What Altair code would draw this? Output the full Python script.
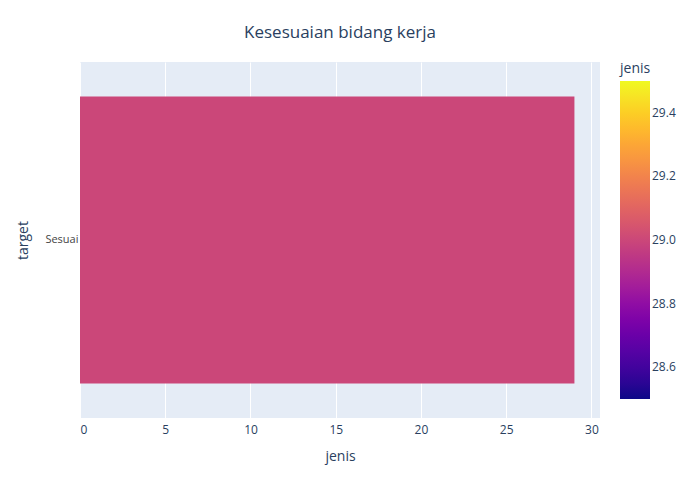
import altair as alt
import pandas as pd

targets = ["Sesuai"]
jenis = [29]

source = pd.DataFrame({"target": targets, "jenis": jenis})

ink = "#2a3f5f"

chart = alt.Chart(source).mark_bar().encode(
    alt.X("jenis:Q", title="jenis",
          scale=alt.Scale(domain=[0, 30.5], nice=False, zero=False),
          axis=alt.Axis(values=[0, 5, 10, 15, 20, 25, 30], domain=False, ticks=False,
                        gridColor="white", gridWidth=1, labelPadding=6, titlePadding=14)),
    alt.Y("target:N", title="target",
          scale=alt.Scale(paddingInner=0.2, paddingOuter=0.096),
          axis=alt.Axis(domain=False, ticks=False, grid=False, labelPadding=2, titlePadding=14,
                        labelColor="#444", labelFontSize=11)),
    color=alt.Color("jenis:Q", title="jenis",
                    scale=alt.Scale(scheme="plasma", domain=[28.5, 29.5]),
                    legend=alt.Legend(gradientLength=318, gradientThickness=30, offset=20,
                                      values=[28.6, 28.8, 29, 29.2, 29.4], labelFontSize=12,
                                      titleFontSize=14, titleFontWeight="normal", titleColor=ink,
                                      labelColor=ink, labelFont="Open Sans", titleFont="Open Sans")),
).properties(
    width=520, height=356,
    autosize=alt.AutoSizeParams(type="none"),
    padding={"left": 72, "top": 54, "right": 92, "bottom": 74},
    title=alt.TitleParams("Kesesuaian bidang kerja", fontSize=17, fontWeight="normal",
                          color=ink, font="Open Sans", offset=20),
).configure_view(fill="#e5ecf6", stroke=None).configure_axis(
    labelColor=ink, titleColor=ink, labelFont="Open Sans", titleFont="Open Sans",
    labelFontSize=12, titleFontSize=14, titleFontWeight="normal",
)

chart.save("out.html", embed_options={"renderer": "svg", "actions": False})
